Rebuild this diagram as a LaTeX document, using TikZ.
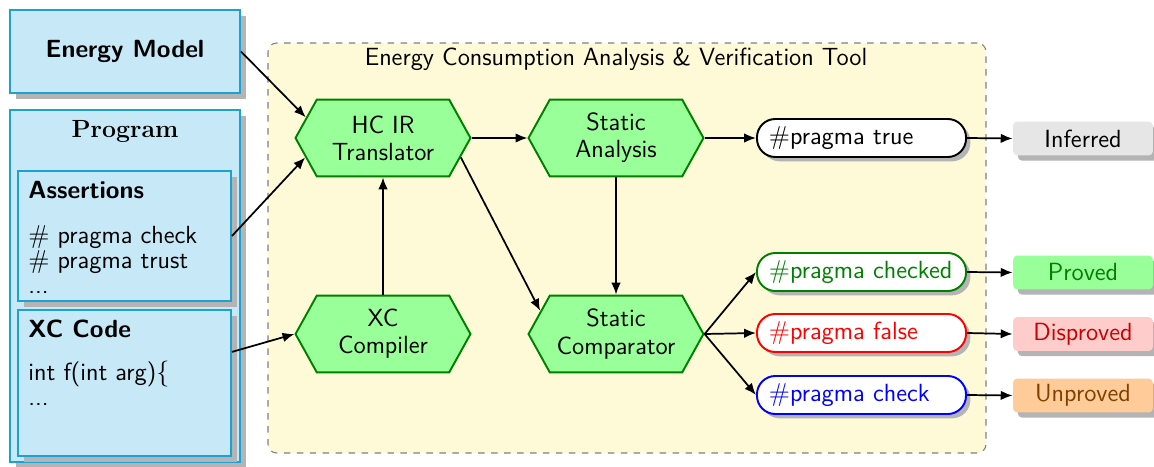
\documentclass[tikz,border=0pt]{standalone}
\usetikzlibrary{shapes.symbols,shadows,arrows.meta}
\renewcommand{\familydefault}{\sfdefault}
\definecolor{boxfill}{HTML}{C6E8F7}
\definecolor{boxdraw}{HTML}{1BA1D2}
\definecolor{toolfill}{HTML}{FEF9D6}
\definecolor{hexfill}{HTML}{99FF99}
\definecolor{hexdraw}{HTML}{008000}
\definecolor{shadowgray}{HTML}{B4B4B4}
\definecolor{inffill}{HTML}{E6E6E6}
\definecolor{provfill}{HTML}{99FF99}
\definecolor{disfill}{HTML}{FFCCCC}
\definecolor{unpfill}{HTML}{FFCC99}
\definecolor{provtext}{HTML}{008000}
\definecolor{distext}{HTML}{CC0000}
\definecolor{unptext}{HTML}{804000}
\tikzset{
  myshadow/.style={drop shadow={shadow xshift=2.6pt, shadow yshift=-2.6pt, fill=shadowgray, opacity=1}},
  bluebox/.style={draw=boxdraw, fill=boxfill, line width=0.9pt, inner sep=0pt, myshadow},
  boxtext/.style={anchor=north west, inner sep=0pt, align=left, font=\fontsize{11.5}{11.6}\selectfont},
  hexnode/.style={shape=signal, signal to=east and west, signal pointer angle=122,
    draw=hexdraw, fill=hexfill, line width=0.9pt, minimum width=81pt, minimum height=35.6pt,
    align=center, inner sep=1pt},
  pill/.style={draw=#1, text=#1, fill=white, line width=0.9pt, rounded corners=8.5pt,
    minimum height=17.6pt, text width=85.8pt, inner xsep=5.5pt, inner ysep=0pt, align=left,
    drop shadow={shadow xshift=2pt, shadow yshift=-2pt, fill=shadowgray, opacity=1}},
  result/.style={fill=#1, rounded corners=2pt, minimum width=64.8pt, minimum height=15.7pt,
    inner sep=0pt, drop shadow={shadow xshift=2.2pt, shadow yshift=-2.4pt, fill=shadowgray, opacity=1}},
  arr/.style={-{Latex[length=5.5pt,width=4.4pt]}, line width=0.8pt},
}
\begin{document}
\fontsize{11.5}{12.6}\selectfont
\begin{tikzpicture}[x=0.463pt,y=-0.463pt]
\useasboundingbox (0,0) rectangle (1154,466);
% tool area
\node (tool) [draw=black!50, dashed, fill=toolfill, rounded corners=4pt, line width=0.5pt,
  minimum width=332.4pt, minimum height=189.8pt, inner sep=0pt] at (627,248) {};
\node (tooltitle) at (616,59) {Energy Consumption Analysis \& Verification Tool};
% left boxes
\node (em) [bluebox, minimum width=106.5pt, minimum height=38.4pt] at (125,51.5) {\bfseries Energy Model};
\node (prog) [bluebox, minimum width=106.5pt, minimum height=163pt] at (125,286) {};
\node (progtitle) at (125,131) {\rmfamily\bfseries Program};
\node (asb) [bluebox, minimum width=98.6pt, minimum height=60.2pt] at (124.5,236) {};
\node (asbtext) [boxtext] at (28,181) {\textbf{Assertions}\\[9pt] $\#$ pragma check\\ $\#$ pragma trust\\ ...};
\node (xcb) [bluebox, minimum width=98.6pt, minimum height=67.6pt] at (124.5,383) {};
\node (xcbtext) [boxtext] at (28,320) {\textbf{XC Code}\\[8pt] int f(int arg)$\{$\\ ...};
% hexagons
\node (hcir) [hexnode] at (383,138) {HC IR\\Translator};
\node (sa) [hexnode] at (616,138) {Static\\Analysis};
\node (xcc) [hexnode] at (383,334) {XC\\Compiler};
\node (sc) [hexnode] at (616,334) {Static\\Comparator};
% pills
\node (ptrue) [pill=black] at (861.5,138) {$\#$pragma true};
\node (pchecked) [pill=hexdraw] at (861.5,272) {$\#$pragma checked};
\node (pfalse) [pill=red] at (861.5,333) {$\#$pragma false};
\node (pcheck) [pill=blue] at (861.5,395) {$\#$pragma check};
% results
\node (inf) [result=inffill] at (1083,138.5) {Inferred};
\node (prov) [result=provfill, text=provtext] at (1083,272.5) {Proved};
\node (dis) [result=disfill, text=distext] at (1083,334) {Disproved};
\node (unp) [result=unpfill, text=unptext] at (1083,395.5) {Unproved};
% connectors
\draw[arr] (em.east) -- (hcir.165);
\draw[arr] (asb.east) -- (hcir.194);
\draw[arr] ([yshift=14.4pt]xcb.east) -- (xcc.west);
\draw[arr] (xcc.north) -- (hcir.south);
\draw[arr] (hcir.east) -- (sa.west);
\draw[arr] (hcir.-14) -- (sc.163);
\draw[arr] (sa.south) -- (sc.north);
\draw[arr] (sa.east) -- (ptrue.west);
\draw[arr] (sc.east) -- (pchecked.west);
\draw[arr] (sc.east) -- (pfalse.west);
\draw[arr] (sc.east) -- (pcheck.west);
\draw[arr] (ptrue.east) -- (inf.west);
\draw[arr] (pchecked.east) -- (prov.west);
\draw[arr] (pfalse.east) -- (dis.west);
\draw[arr] (pcheck.east) -- (unp.west);
\end{tikzpicture}
\end{document}
